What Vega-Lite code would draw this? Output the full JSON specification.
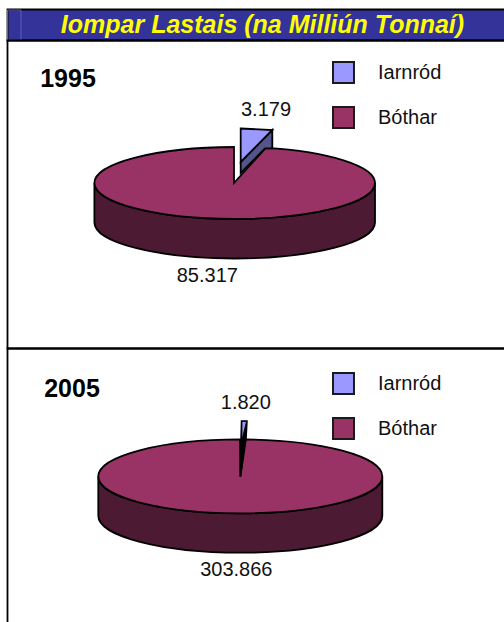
{"$schema":"https://vega.github.io/schema/vega-lite/v6.json","padding":{"left":4.5,"top":6.5,"right":0,"bottom":0},"background":"white","spacing":0,"bounds":"flush","resolve":{"scale":{"fill":"independent"},"legend":{"fill":"independent"}},"datasets":{"freight":[{"year":1995,"mode":"Iarnród","value":3.179},{"year":1995,"mode":"Bóthar","value":85.317},{"year":2005,"mode":"Iarnród","value":1.82},{"year":2005,"mode":"Bóthar","value":303.866}],"head":[{"title":"Iompar Lastais (na Milliún Tonnaí)"}]},"config":{"font":"Liberation Sans","legend":{"title":null,"orient":"none","symbolType":"square","symbolSize":440,"symbolStrokeColor":"#1a1a1a","symbolStrokeWidth":2,"labelFontSize":20,"labelFont":"Liberation Sans","labelColor":"#111111","labelOffset":23,"rowPadding":16,"padding":0}},"vconcat":[{"width":510,"height":31,"view":{"fill":"#333399","stroke":"black","strokeWidth":1.8},"data":{"name":"head"},"layer":[{"mark":{"type":"point","shape":"M-255,-15L-241.5,-15L-241.5,15L-255,15Z","size":4,"filled":false,"stroke":"#5f5fb5","strokeWidth":1,"opacity":1},"encoding":{}},{"mark":{"type":"text","font":"Liberation Sans","fontSize":25,"fontWeight":"bold","fontStyle":"italic","color":"#ffff00"},"encoding":{"text":{"field":"title","type":"nominal"}}}]},{"width":510,"height":308,"view":{"stroke":"black","strokeWidth":1.8},"data":{"name":"freight"},"transform":[{"filter":"datum.year===1995"}],"layer":[{"transform":[{"filter":"datum.mode==='Bóthar'"}],"mark":{"type":"point","shape":"M-168.1,-11.5L-168.1,28A140.3,36 0 0 0 112.5,28L112.5,-11.5A140.3,36 0 0 1 -168.1,-11.5Z","size":4,"filled":true,"fill":"#4d1a33","stroke":"black","strokeWidth":1.8,"opacity":1},"encoding":{}},{"transform":[{"filter":"datum.mode==='Bóthar'"}],"mark":{"type":"point","shape":"M-28.5,-11.5L-28.5,-47.5A140.3,36 0 0 0 -168.1,-11.5A140.3,36 0 0 0 112.5,-11.5A140.3,36 0 0 0 3.2,-46.6Z","size":4,"filled":true,"stroke":"black","strokeWidth":1.8,"opacity":1},"encoding":{"fill":{"field":"mode","type":"nominal","scale":{"domain":["Iarnród","Bóthar"],"range":["#9999ff","#993366"]},"legend":{"legendX":324.5,"legendY":20.5}}}},{"transform":[{"filter":"datum.mode==='Iarnród'"}],"mark":{"type":"point","shape":"M-21.8,-32.5L9.8,-64.5L9.8,-46.2L2.5,-46L-21.8,-21.5Z","size":4,"filled":true,"fill":"#55558c","stroke":"black","strokeWidth":1.8,"opacity":1},"encoding":{}},{"transform":[{"filter":"datum.mode==='Iarnród'"}],"mark":{"type":"point","shape":"M-21.8,-66L9.8,-64.5L-21.8,-32.5Z","size":4,"filled":true,"stroke":"black","strokeWidth":1.8,"opacity":1},"encoding":{"fill":{"field":"mode","type":"nominal","scale":{"domain":["Iarnród","Bóthar"],"range":["#9999ff","#993366"]}}}},{"transform":[{"filter":"datum.mode==='Iarnród'"}],"mark":{"type":"text","fontSize":20,"color":"#111111","dx":3.5,"dy":-84.5},"encoding":{"text":{"field":"value","type":"quantitative","format":".3f"}}},{"transform":[{"filter":"datum.mode==='Bóthar'"}],"mark":{"type":"text","fontSize":20,"color":"#111111","dx":-55.2,"dy":81.3},"encoding":{"text":{"field":"value","type":"quantitative","format":".3f"}}},{"transform":[{"filter":"datum.mode==='Bóthar'"}],"mark":{"type":"text","fontSize":25,"fontWeight":"bold","color":"black","dx":-194.5,"dy":-115.5},"encoding":{"text":{"field":"year","type":"nominal"}}}]},{"width":510,"height":282,"view":{"stroke":"black","strokeWidth":1.8},"data":{"name":"freight"},"transform":[{"filter":"datum.year===2005"}],"layer":[{"transform":[{"filter":"datum.mode==='Bóthar'"}],"mark":{"type":"point","shape":"M-164.2,-13.1L-164.2,26.2A142,37 0 0 0 119.8,26.2L119.8,-13.1A142,37 0 0 1 -164.2,-13.1Z","size":4,"filled":true,"fill":"#4d1a33","stroke":"black","strokeWidth":1.8,"opacity":1},"encoding":{}},{"transform":[{"filter":"datum.mode==='Bóthar'"}],"mark":{"type":"point","shape":"M-22.2,-13L-22.5,-50.1A142,37 0 0 0 -164.2,-13.1A142,37 0 0 0 119.8,-13.1A142,37 0 0 0 -17.5,-50.05Z","size":4,"filled":true,"stroke":"black","strokeWidth":1.8,"opacity":1},"encoding":{"fill":{"field":"mode","type":"nominal","scale":{"domain":["Iarnród","Bóthar"],"range":["#9999ff","#993366"]},"legend":{"legendX":324.5,"legendY":23.5}}}},{"transform":[{"filter":"datum.mode==='Iarnród'"}],"mark":{"type":"point","shape":"M-21,-68.5L-15.5,-68.5L-16.5,-50L-22,-12.5L-21.5,-50Z","size":4,"filled":true,"fill":"black","stroke":"black","strokeWidth":1.5,"opacity":1},"encoding":{}},{"transform":[{"filter":"datum.mode==='Iarnród'"}],"mark":{"type":"point","shape":"M-20.5,-68L-16,-68L-20.5,-50Z","size":4,"filled":true,"strokeWidth":0.8,"stroke":"black","opacity":1},"encoding":{"fill":{"field":"mode","type":"nominal","scale":{"domain":["Iarnród","Bóthar"],"range":["#9999ff","#993366"]}}}},{"transform":[{"filter":"datum.mode==='Iarnród'"}],"mark":{"type":"text","fontSize":20,"color":"#111111","dx":-16.7,"dy":-87},"encoding":{"text":{"field":"value","type":"quantitative","format":".3f"}}},{"transform":[{"filter":"datum.mode==='Bóthar'"}],"mark":{"type":"text","fontSize":20,"color":"#111111","dx":-26.2,"dy":80.5},"encoding":{"text":{"field":"value","type":"quantitative","format":".3f"}}},{"transform":[{"filter":"datum.mode==='Bóthar'"}],"mark":{"type":"text","fontSize":25,"fontWeight":"bold","color":"black","dx":-190.5,"dy":-101}, "encoding":{"text":{"field":"year","type":"nominal"}}}]}]}
